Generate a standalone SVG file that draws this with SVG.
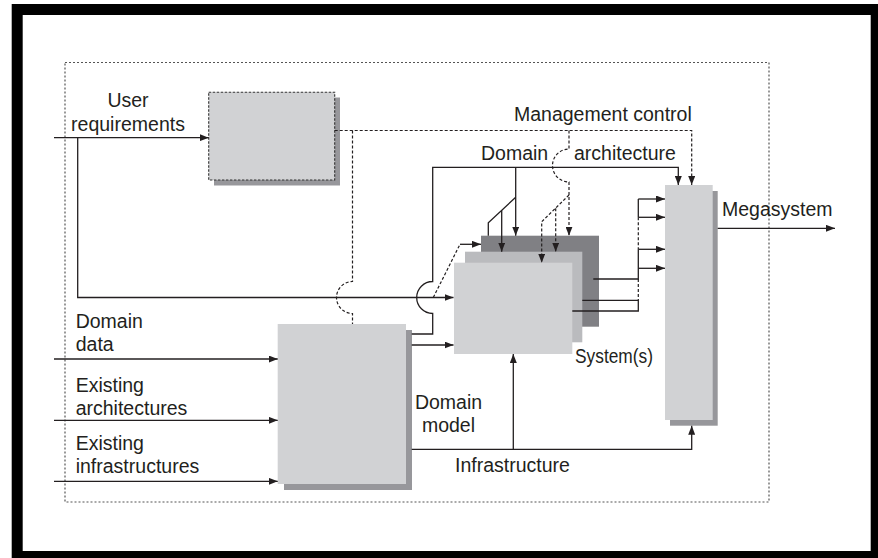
<svg xmlns="http://www.w3.org/2000/svg" width="878" height="558" viewBox="0 0 878 558">
  <defs>
    <style>
      .t { font-family: "Liberation Sans", Arial, sans-serif; font-size: 19.5px; fill: #231f20; }
      .mid { text-anchor: middle; }
      .ln { fill: none; stroke: #231f20; stroke-width: 1.3; }
      .dl { fill: none; stroke: #231f20; stroke-width: 1.2; stroke-dasharray: 3 2; }
      .box { fill: #d1d2d4; }
      .shadow { fill: #97979b; }
    </style>
    <marker id="arr" viewBox="0 0 9 7" refX="9" refY="3.5" markerWidth="9" markerHeight="7" markerUnits="userSpaceOnUse" orient="auto">
      <path d="M0,0 L9,3.5 L0,7 z" fill="#231f20"/>
    </marker>
  </defs>

  <!-- page frame -->
  <rect x="11.7" y="4" width="880" height="570" fill="#000"/>
  <rect x="22.7" y="15" width="848" height="536" fill="#fff"/>

  <!-- system boundary -->
  <rect x="65" y="62.5" width="704" height="439.5" fill="none" stroke="#555" stroke-width="1.2" stroke-dasharray="2 2"/>

  <!-- management process -->
  <g id="management">
    <rect class="shadow" x="214" y="97.5" width="126" height="88"/>
    <rect class="box" x="208.7" y="92.3" width="126" height="87.7" stroke="#333" stroke-width="1.1" stroke-dasharray="2.5 1.5"/>
  </g>

  <!-- domain engineering process -->
  <g id="domain-model-box">
    <rect class="shadow" x="284" y="330" width="128" height="160"/>
    <rect class="box" x="277.7" y="324" width="128.3" height="160"/>
  </g>

  <!-- system stack -->
  <g id="systems">
    <rect x="481" y="235.7" width="118" height="91" fill="#808084"/>
    <rect x="465" y="251.7" width="117.3" height="90.6" fill="#babbbe"/>
    <rect class="box" x="454" y="262.7" width="118.3" height="91.3"/>
  </g>

  <!-- megasystem -->
  <g id="megasystem">
    <rect class="shadow" x="670" y="191" width="47.7" height="234.7"/>
    <rect class="box" x="665" y="185" width="47.7" height="235"/>
  </g>

  <g id="connectors">
    <!-- user requirements -->
    <path class="ln" d="M54,137.7 H208.7" marker-end="url(#arr)"/>
    <path class="ln" d="M77.7,137.7 V297.5 H453.5" marker-end="url(#arr)"/>

    <!-- management control (dashed) -->
    <path class="dl" d="M334.7,130.5 H691.7 V185" marker-end="url(#arr)"/>
    <path class="dl" d="M352.5,130.5 V281.5 A16,16 0 0,0 352.5,313.5 V324"/>
    <path class="dl" d="M569,130.5 V149 A16.5,16.5 0 0,0 569,182 V235.7" marker-end="url(#arr)"/>
    <path class="dl" d="M569,195 L541.7,221.7 V262.7" marker-end="url(#arr)"/>
    <path class="dl" d="M555.7,208.3 V251.7" marker-end="url(#arr)"/>

    <!-- domain architecture -->
    <path class="ln" d="M411.7,334 H432.7 V313.5 A16,16 0 0,1 432.7,281.5 V167.3 H678.3 V185" marker-end="url(#arr)"/>
    <path class="ln" d="M515.7,167.3 V235.7" marker-end="url(#arr)"/>
    <path class="ln" d="M515.7,197.3 L488.3,222.7 V235.7"/>
    <path class="ln" d="M501.7,210.3 V251.7" marker-end="url(#arr)"/>
    <path class="dl" d="M433.3,297.5 L460,244.3"/>
    <path class="ln" d="M460,244.3 H481" marker-end="url(#arr)"/>

    <!-- domain model to systems -->
    <path class="ln" d="M411.7,345 H453.5" marker-end="url(#arr)"/>

    <!-- external inputs -->
    <path class="ln" d="M54,359 H277.7" marker-end="url(#arr)"/>
    <path class="ln" d="M54,420.3 H277.7" marker-end="url(#arr)"/>
    <path class="ln" d="M54,481.3 H277.7" marker-end="url(#arr)"/>

    <!-- infrastructure -->
    <path class="ln" d="M411.7,449.3 H691.7 V425.7" marker-end="url(#arr)"/>
    <path class="ln" d="M513.3,449.3 V354" marker-end="url(#arr)"/>

    <!-- systems to megasystem -->
    <path class="ln" d="M638.3,199 H665" marker-end="url(#arr)"/>
    <path class="ln" d="M638.3,217.3 H665" marker-end="url(#arr)"/>
    <path class="ln" d="M638.3,249.3 H665" marker-end="url(#arr)"/>
    <path class="ln" d="M638.3,268.3 H665" marker-end="url(#arr)"/>
    <path class="ln" d="M638.3,199 V217.3"/>
    <path class="dl" d="M638.3,217.3 V249.3"/>
    <path class="ln" d="M638.3,249.3 V279 H593.3"/>
    <path class="dl" d="M638.3,279 V300.3"/>
    <path class="ln" d="M582.3,300.3 H638.3 V311 H572.3"/>

    <!-- megasystem output -->
    <path class="ln" d="M717.7,228.3 H835" marker-end="url(#arr)"/>
  </g>

  <!-- labels -->
  <g id="labels">
    <text class="t mid" x="128" y="106.7">User</text>
    <text class="t mid" x="128" y="131">requirements</text>
    <text class="t" x="514" y="121">Management control</text>
    <text class="t" x="481" y="160">Domain</text>
    <text class="t" x="574" y="160">architecture</text>
    <text class="t" x="722" y="216">Megasystem</text>
    <text class="t" x="575" y="363.3" textLength="78" lengthAdjust="spacingAndGlyphs">System(s)</text>
    <text class="t mid" x="448.5" y="409">Domain</text>
    <text class="t mid" x="448.5" y="432.3">model</text>
    <text class="t" x="455" y="471.7">Infrastructure</text>
    <text class="t" x="75.7" y="328.3">Domain</text>
    <text class="t" x="75.7" y="351">data</text>
    <text class="t" x="75.7" y="391.7">Existing</text>
    <text class="t" x="75.7" y="415">architectures</text>
    <text class="t" x="75.7" y="450">Existing</text>
    <text class="t" x="75.7" y="473.3">infrastructures</text>
  </g>
</svg>
